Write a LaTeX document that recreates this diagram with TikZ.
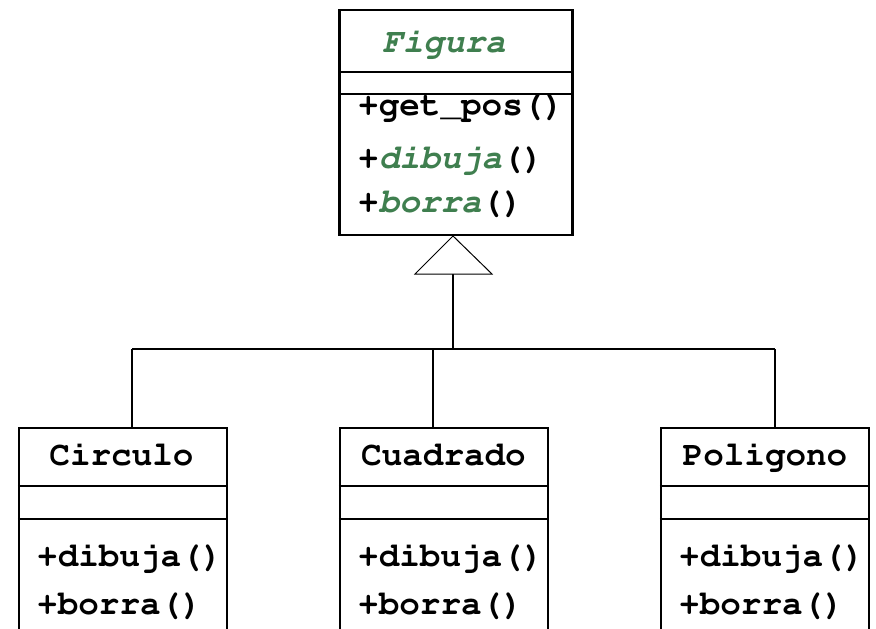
\documentclass[tikz,border=0pt]{standalone}
\usepackage[T1]{fontenc}
\renewcommand\ttdefault{pcr}
\definecolor{absgreen}{RGB}{63,127,79}
\begin{document}
\begin{tikzpicture}[x=1pt,y=-1pt,
  umlbox/.style={draw, line width=2.2pt, rectangle, inner sep=0pt},
  sep/.style={line width=2.2pt},
  conn/.style={line width=2pt},
  tri/.style={line width=1pt, fill=white},
  txt/.style={inner sep=0pt, anchor=base, font=\fontsize{34.3}{41}\selectfont\ttfamily\bfseries},
  meth/.style={txt, anchor=base west},
  abs/.style={text=absgreen, font=\fontsize{34.3}{41}\selectfont\ttfamily\bfseries\slshape}
]
\useasboundingbox (0,0) rectangle (876,629);
\fill[white] (0,0) rectangle (876,629);
\clip (0,0) rectangle (876,629);

% Figura
\node[umlbox, minimum width=233pt, minimum height=225pt] (fig) at (456,122.5) {};
\draw[sep] (fig.west |- 0,72) -- (fig.east |- 0,72);
\draw[sep] (fig.west |- 0,94) -- (fig.east |- 0,94);
\node[txt, abs] (figt) at (444,52) {Figura};
\node[meth] (fm1) at (358,115) {+get\_pos()};
\node[meth] (fm2) at (358,168) {+{\slshape\color{absgreen}dibuja}()};
\node[meth] (fm3) at (358,212) {+{\slshape\color{absgreen}borra}()};

% Subclasses
\node[umlbox, minimum width=208pt, minimum height=240pt] (circ) at (123,548) {};
\node[umlbox, minimum width=208pt, minimum height=240pt] (cuad) at (444,548) {};
\node[umlbox, minimum width=208pt, minimum height=240pt] (poli) at (765,548) {};
\foreach \b in {circ,cuad,poli}{
  \draw[sep] (\b.west |- 0,486) -- (\b.east |- 0,486);
  \draw[sep] (\b.west |- 0,519) -- (\b.east |- 0,519);
}
\node[txt] (ct) at (121.5,465) {Circulo};
\node[txt] (qt) at (443.5,465) {Cuadrado};
\node[txt] (pt) at (765,465) {Poligono};
\node[meth] (cm1) at (37,566) {+dibuja()};
\node[meth] (cm2) at (37,614) {+borra()};
\node[meth] (qm1) at (358,566) {+dibuja()};
\node[meth] (qm2) at (358,614) {+borra()};
\node[meth] (pm1) at (679,566) {+dibuja()};
\node[meth] (pm2) at (679,614) {+borra()};

% Generalization connectors
\coordinate (apex) at (453,236);
\coordinate (base) at (453,274);
\coordinate (bar) at (453,349);
\coordinate (j1) at (132,349);
\coordinate (j2) at (433,349);
\coordinate (j3) at (775,349);
\draw[conn] (base) -- (bar);
\draw[conn] (j1) -- (j3);
\draw[conn] (j1) -- (j1 |- circ.north);
\draw[conn] (j2) -- (j2 |- cuad.north);
\draw[conn] (j3) -- (j3 |- poli.north);
\draw[tri] (apex) -- (415,274) -- (492,274) -- cycle;
\end{tikzpicture}
\end{document}
